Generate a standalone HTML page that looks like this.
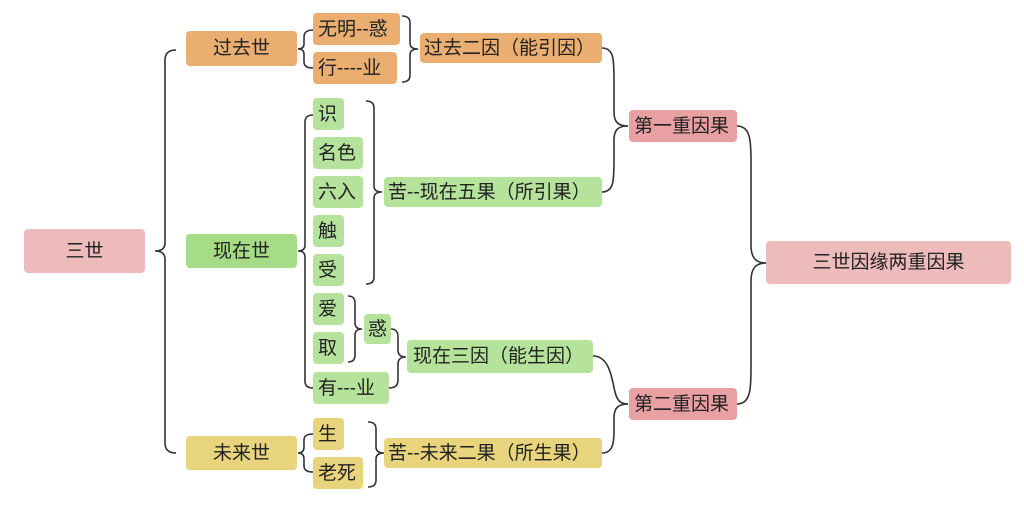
<!DOCTYPE html>
<html><head><meta charset="utf-8"><style>
body{margin:0;width:1024px;height:505px;background:#fff;position:relative;overflow:hidden;font-family:"Liberation Sans","Noto Sans CJK SC",sans-serif;}
.n{position:absolute;border-radius:4px;font-size:19px;color:#222;line-height:1;display:flex;align-items:center;box-sizing:border-box;padding-left:5px;white-space:nowrap}
.c{justify-content:center;padding-left:0}
.o{background:#e9ae70}.g{background:#a6dc86}.lg{background:#b5e39b}.y{background:#e7d47c}.p{background:#eebbbc}.dp{background:#e8a0a2}
svg{position:absolute;left:0;top:0}
</style></head><body>
<svg width="1024" height="505" fill="none" stroke="#333" stroke-width="1.6">
<path d="M176,50 Q165,50 165,60 L165,243 Q165,251 155,251 Q165,251 165,259 L165,443 Q165,453 176,453"/>
<path d="M313,30 Q304,30 304,37 L304,44 Q304,49 298,49 Q304,49 304,54 L304,62 Q304,68 313,68"/>
<path d="M313,115 Q305,115 305,122 L305,245 Q305,251 298,251 Q305,251 305,257 L305,381 Q305,388 313,388"/>
<path d="M313,434 Q304,434 304,440 L304,447 Q304,453 298,453 Q304,453 304,459 L304,466 Q304,472 313,472"/>
<path d="M402,16 Q410,16 410,23 L410,43 Q410,49 418,49 Q410,49 410,55 L410,75 Q410,82 402,82"/>
<path d="M366,101 Q374,101 374,108 L374,186 Q374,192 382,192 Q374,192 374,198 L374,277 Q374,284 366,284"/>
<path d="M348,296 Q355,296 355,303 L355,323 Q355,329 362,329 Q355,329 355,335 L355,355 Q355,362 348,362"/>
<path d="M391,329 Q398,329 398,337 L398,350 Q398,357 406,357 Q398,357 398,364 L398,380 Q398,388 389,388"/>
<path d="M368,422 Q376,422 376,429 L376,447 Q376,453 384,453 Q376,453 376,459 L376,480 Q376,487 368,487"/>
<path d="M602,48 C614,48 614,60 614,80 L614,112 C614,122 618,126 628,126"/>
<path d="M602,192 C614,192 614,180 614,160 L614,140 C614,130 618,126 628,126"/>
<path d="M593,356 C610,356 612,380 615,392 C617,400 620,404 628,404"/>
<path d="M602,453 C614,453 614,440 614,430 L614,418 C614,408 618,404 628,404"/>
<path d="M737,126 C750,126 751,140 751,160 L751,245 C751,258 756,263 766,263"/>
<path d="M737,404 C750,404 751,390 751,370 L751,281 C751,268 756,263 766,263"/>
</svg>
<div class="n p c" style="left:24px;top:229px;width:121px;height:44px">三世</div>
<div class="n o c" style="left:186px;top:31px;width:111px;height:35px">过去世</div>
<div class="n g c" style="left:186px;top:234px;width:111px;height:34px">现在世</div>
<div class="n y c" style="left:186px;top:436px;width:111px;height:34px">未来世</div>
<div class="n o" style="left:313px;top:13px;width:87px;height:32px">无明--惑</div>
<div class="n o" style="left:313px;top:52px;width:84px;height:32px">行----业</div>
<div class="n o" style="left:420px;top:33px;width:182px;height:30px;padding-left:4px">过去二因（能引因）</div>
<div class="n lg" style="left:313px;top:98px;width:31px;height:32px">识</div>
<div class="n lg" style="left:313px;top:137px;width:50px;height:32px">名色</div>
<div class="n lg" style="left:313px;top:176px;width:50px;height:32px">六入</div>
<div class="n lg" style="left:313px;top:215px;width:31px;height:32px">触</div>
<div class="n lg" style="left:313px;top:254px;width:31px;height:32px">受</div>
<div class="n lg" style="left:313px;top:293px;width:31px;height:32px">爱</div>
<div class="n lg" style="left:313px;top:332px;width:31px;height:32px">取</div>
<div class="n lg" style="left:364px;top:314px;width:27px;height:30px;padding-left:4px">惑</div>
<div class="n lg" style="left:313px;top:372px;width:76px;height:32px">有---业</div>
<div class="n lg" style="left:384px;top:177px;width:218px;height:30px;padding-left:4px">苦--现在五果（所引果）</div>
<div class="n lg" style="left:407px;top:340px;width:186px;height:33px;padding-left:6px">现在三因（能生因）</div>
<div class="n y" style="left:313px;top:418px;width:31px;height:32px">生</div>
<div class="n y" style="left:313px;top:457px;width:50px;height:32px">老死</div>
<div class="n y" style="left:384px;top:438px;width:218px;height:30px;padding-left:4px">苦--未来二果（所生果）</div>
<div class="n dp" style="left:629px;top:110px;width:108px;height:32px;padding-left:5px">第一重因果</div>
<div class="n dp" style="left:629px;top:388px;width:108px;height:32px;padding-left:5px">第二重因果</div>
<div class="n p c" style="left:766px;top:241px;width:245px;height:43px">三世因缘两重因果</div>
</body></html>
